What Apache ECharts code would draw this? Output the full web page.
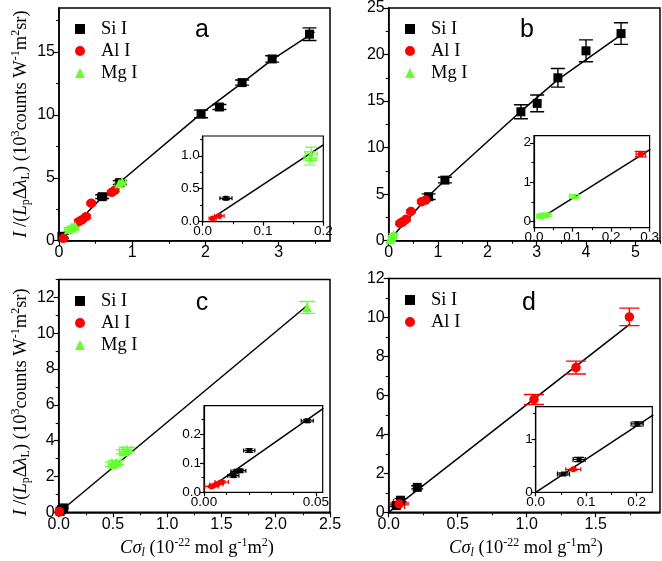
<!DOCTYPE html>
<html><head><meta charset="utf-8">
<script src="https://cdn.jsdelivr.net/npm/echarts@6/dist/echarts.min.js"></script>
<style>html,body{margin:0;padding:0;background:#fff}#c{width:662px;height:561px}</style>
</head><body><div id="c"></div>
<script>
// ================= DATA =================
const legendNames = ['Si I', 'Al I', 'Mg I'];
const panelLetters = ['a', 'b', 'c', 'd'];
// each point: [x, y, xErr, yErr]
// ---- panel a ----
const siA = [[0.04,0.35,0.03,0.15],[0.59,3.5,0.06,0.15],[0.83,4.62,0.06,0.15],[1.94,10.08,0,0.3],[2.19,10.63,0,0.2],[2.5,12.57,0,0.2],[2.91,14.45,0,0.25],[3.42,16.42,0,0.5]];
const alA = [[0.06,0.19,0.05,0.1],[0.27,1.51,0.05,0.1],[0.31,1.65,0.05,0.1],[0.37,1.91,0.05,0.1],[0.44,2.98,0.05,0.1],[0.72,3.85,0.05,0.1],[0.76,4.0,0.05,0.1]];
const mgA = [[0.13,0.9,0.05,0.15],[0.18,1.0,0.05,0.15],[0.22,1.17,0.05,0.15],[0.82,4.55,0.05,0.15],[0.86,4.7,0.05,0.15]];
const fitA = [[0.02,0.1],[0.59,3.45],[0.83,4.65],[1.94,10.1],[2.5,12.55],[2.91,14.4],[3.49,16.6]];
const siAin = [[0.0386,0.355,0.01,0.02]];
const alAin = [[0.0166,0.05,0.006,0.01],[0.0275,0.087,0.008,0.01]];
const mgAin = [[0.178,0.96,0.01,0.1],[0.18,1.03,0.01,0.1]];
const fitAin = [[0.0176,0.067],[0.2,1.164]];
// ---- panel b ----
const siB = [[0.81,4.73,0.05,0.3],[1.14,6.51,0.05,0.3],[2.68,13.85,0,0.75],[3.01,14.75,0,0.9],[3.43,17.5,0,1.0],[4.0,20.4,0,1.18],[4.71,22.25,0,1.16]];
const alB = [[0.23,1.87,0.07,0.15],[0.28,2.0,0.07,0.15],[0.35,2.3,0.07,0.15],[0.45,3.15,0.07,0.15],[0.67,4.19,0.07,0.15],[0.75,4.37,0.07,0.15]];
const mgB = [[0.02,0.13,0.04,0.1],[0.03,0.17,0.04,0.1],[0.06,0.4,0.04,0.1],[0.1,0.65,0.04,0.1]];
const fitB = [[0,0],[0.81,4.8],[1.14,6.5],[2.68,13.9],[3.43,17.3],[4.79,22.4]];
const alBin = [[0.277,1.71,0.012,0.07]];
const mgBin = [[0.019,0.13,0.012,0.04],[0.024,0.16,0.012,0.04],[0.032,0.17,0.012,0.04],[0.104,0.64,0.012,0.04]];
const fitBin = [[0.024,0.12],[0.302,1.83]];
// ---- panel c ----
const siC = [[0.013,0.057,0.02,0.05],[0.025,0.143,0.02,0.05],[0.046,0.245,0.02,0.05]];
const alC = [[0.0034,0.022,0.01,0.02],[0.0079,0.036,0.01,0.02]];
const mgC = [[0.5,2.68,0.04,0.12],[0.53,2.78,0.04,0.12],[0.6,3.38,0.04,0.12],[0.63,3.5,0.04,0.12],[2.29,11.44,0,0.33]];
const fitC = [[0.03,0.13],[2.29,11.55]];
const siCin = [[0.0131,0.057,0.0025,0.005],[0.0145,0.072,0.0025,0.005],[0.0162,0.074,0.0025,0.005],[0.0202,0.143,0.0025,0.006],[0.0461,0.245,0.0027,0.005]];
const alCin = [[0.0034,0.02,0.003,0.004],[0.0055,0.027,0.003,0.004],[0.0079,0.035,0.003,0.004]];
const fitCin = [[0.0027,0.015],[0.0533,0.288]];
// ---- panel d ----
const siD = [[0.055,0.345,0.02,0.05],[0.086,0.62,0.02,0.08],[0.207,1.28,0.02,0.08]];
const alD = [[0.075,0.43,0.04,0.05],[1.053,5.79,0,0.26],[1.357,7.43,0,0.33],[1.744,10.03,0,0.45]];
const fitD = [[0,0],[1.75,9.67]];
const siDin = [[0.055,0.345,0.012,0.02],[0.086,0.62,0.012,0.04],[0.201,1.29,0.012,0.04]];
const alDin = [[0.0745,0.434,0.015,0.02]];
const fitDin = [[0,0],[0.233,1.46]];
// ---- axis tick labels ----
const ticksAx = [0,1,2,3],      ticksAy = [0,5,10,15];
const ticksAinX = [0,0.1,0.2],  ticksAinY = [0,0.5,1.0];
const ticksBx = [0,1,2,3,4,5],  ticksBy = [0,5,10,15,20,25];
const ticksBinX = [0,0.1,0.2,0.3], ticksBinY = [0,1,2];
const ticksCx = [0,0.5,1.0,1.5,2.0,2.5], ticksCy = [0,2,4,6,8,10,12];
const ticksCinX = [0,0.05],     ticksCinY = [0,0.1,0.2];
const ticksDx = [0,0.5,1.0,1.5], ticksDy = [0,2,4,6,8,10,12];
const ticksDinX = [0,0.1,0.2],  ticksDinY = [0,1];

// ================= STYLE / LAYOUT =================
const SANS = 'Liberation Sans, Arial, sans-serif';
const SERIF = 'Liberation Serif, Times New Roman, serif';
const BLACK = '#000000', RED = '#ff0000', GREEN = '#66ff33';

const grids = [
  {xr:[0,3.7], xt:ticksAx, xm:0.5, xd:0, yr:[0,18.5], yt:ticksAy, ym:2.5, yd:0, box:{left:59,top:8,width:271,height:232.7}, inset:false},
  {xr:[0,0.2], xt:ticksAinX, xm:0.05, xd:1, yr:[0,1.3], yt:ticksAinY, ym:0.25, yd:1, box:{left:202.7,top:136,width:120.6,height:85.7}, inset:true},
  {xr:[0,5.5], xt:ticksBx, xm:0.5, xd:0, yr:[0,25], yt:ticksBy, ym:2.5, yd:0, box:{left:388.7,top:8,width:271.3,height:232.7}, inset:false},
  {xr:[0,0.3], xt:ticksBinX, xm:0.05, xd:1, yr:[-0.16,2.18], yt:ticksBinY, ym:0.5, yd:0, box:{left:534,top:135.7,width:118.3,height:92}, inset:true},
  {xr:[0,2.5], xt:ticksCx, xm:0.25, xd:1, yr:[0,13], yt:ticksCy, ym:1, yd:0, box:{left:58.7,top:279.5,width:271.3,height:232.8}, inset:false},
  {xr:[0,0.053], xt:ticksCinX, xm:0.01, xd:2, yr:[0,0.297], yt:ticksCinY, ym:0.05, yd:1, box:{left:204,top:405.7,width:118.7,height:86.6}, inset:true},
  {xr:[0,1.966], xt:ticksDx, xm:0.25, xd:1, yr:[0,12], yt:ticksDy, ym:1, yd:0, box:{left:388.7,top:278.5,width:271.3,height:233.8}, inset:false},
  {xr:[0,0.231], xt:ticksDinX, xm:0.05, xd:1, yr:[0,1.615], yt:ticksDinY, ym:0.5, yd:0, box:{left:535.7,top:406.7,width:116.6,height:85.6}, inset:true}
];

function minorVals(r, step, majors) {
  const out = [];
  const start = Math.ceil((r[0] - 1e-9) / step);
  for (let k = start; k * step <= r[1] + 1e-9; k++) {
    const v = +(k * step).toFixed(6);
    if (!majors.some(m => Math.abs(m - v) < 1e-9)) out.push(v);
  }
  return out;
}

const gridOpt = [], xAxes = [], yAxes = [];
grids.forEach((g, i) => {
  const lw = g.inset ? 1.2 : 1.5;
  const fs = g.inset ? 13.5 : 16;
  gridOpt.push(Object.assign({show:true, borderColor:BLACK, borderWidth:lw, backgroundColor: g.inset ? '#fff' : 'transparent', containLabel:false}, g.box));
  xAxes.push({type:'value', gridIndex:i, min:g.xr[0], max:g.xr[1], position:'bottom',
    axisLine:{show:true, onZero:false, lineStyle:{color:BLACK, width:lw}},
    axisTick:{show:true, customValues:g.xt, length: g.inset?4:5, lineStyle:{color:BLACK, width:1.2}},
    axisLabel:{customValues:g.xt, formatter:v => (+v).toFixed(g.xd), color:BLACK, fontFamily:SANS, fontSize:fs, margin: g.inset?3:4},
    splitLine:{show:false}});
  xAxes.push({type:'value', gridIndex:i, min:g.xr[0], max:g.xr[1], position:'bottom',
    axisLine:{show:false, onZero:false}, axisLabel:{show:false},
    axisTick:{show:true, customValues:minorVals(g.xr, g.xm, g.xt), length: g.inset?2.5:3, lineStyle:{color:BLACK, width:1.1}},
    splitLine:{show:false}});
  yAxes.push({type:'value', gridIndex:i, min:g.yr[0], max:g.yr[1], position:'left',
    axisLine:{show:true, onZero:false, lineStyle:{color:BLACK, width:lw}},
    axisTick:{show:true, customValues:g.yt, length: g.inset?4:5, lineStyle:{color:BLACK, width:1.2}},
    axisLabel:{customValues:g.yt, formatter:v => (+v).toFixed(g.yd), color:BLACK, fontFamily:SANS, fontSize:fs, margin: g.inset?3:4},
    splitLine:{show:false}});
  yAxes.push({type:'value', gridIndex:i, min:g.yr[0], max:g.yr[1], position:'left',
    axisLine:{show:false, onZero:false}, axisLabel:{show:false},
    axisTick:{show:true, customValues:minorVals(g.yr, g.ym, g.yt), length: g.inset?2.5:3, lineStyle:{color:BLACK, width:1.1}},
    splitLine:{show:false}});
});

function errRender(color, cap, lw) {
  return function (params, api) {
    const x = api.value(0), y = api.value(1), ex = api.value(2), ey = api.value(3);
    const st = {stroke:color, lineWidth:lw};
    const ch = [];
    if (ey > 0) {
      const a = api.coord([x, y - ey]), b = api.coord([x, y + ey]);
      ch.push({type:'line', shape:{x1:a[0], y1:a[1], x2:b[0], y2:b[1]}, style:st});
      ch.push({type:'line', shape:{x1:a[0]-cap, y1:a[1], x2:a[0]+cap, y2:a[1]}, style:st});
      ch.push({type:'line', shape:{x1:b[0]-cap, y1:b[1], x2:b[0]+cap, y2:b[1]}, style:st});
    }
    if (ex > 0) {
      const a = api.coord([x - ex, y]), b = api.coord([x + ex, y]);
      const c = Math.max(2, cap * 0.5);
      ch.push({type:'line', shape:{x1:a[0], y1:a[1], x2:b[0], y2:b[1]}, style:st});
      ch.push({type:'line', shape:{x1:a[0], y1:a[1]-c, x2:a[0], y2:a[1]+c}, style:st});
      ch.push({type:'line', shape:{x1:b[0], y1:b[1]-c, x2:b[0], y2:b[1]+c}, style:st});
    }
    return {type:'group', children:ch};
  };
}

const series = [];
const SYM = {'Si I':'rect', 'Al I':'circle', 'Mg I':'triangle'};
const COL = {'Si I':BLACK, 'Al I':RED, 'Mg I':GREEN};
function addGroup(gi, name, data, inset, cap) {
  const idx = gi * 2;
  series.push({type:'custom', name: name + ' error', xAxisIndex:idx, yAxisIndex:idx, clip:true,
    renderItem: errRender(COL[name], cap, inset ? 1.2 : 1.4), data: data, z:3, silent:true});
}
function addPoints(gi, name, data, inset) {
  const idx = gi * 2;
  series.push({type:'scatter', name:name, xAxisIndex:idx, yAxisIndex:idx, data:data, symbol:SYM[name],
    symbolSize: inset ? (name === 'Si I' ? 5 : 6) : (name === 'Si I' ? 9 : 9.5),
    itemStyle:{color:COL[name], opacity:1}, z:4, clip:true});
}
function addFit(gi, data) {
  const idx = gi * 2;
  series.push({type:'line', name:'fit', xAxisIndex:idx, yAxisIndex:idx, data:data, symbol:'none',
    lineStyle:{color:BLACK, width:1.5}, z:2, clip:true, silent:true});
}
// scatter first so legend icons use them
const groups = [
  [0,'Si I',siA,false,7],[0,'Al I',alA,false,5],[0,'Mg I',mgA,false,5],
  [1,'Si I',siAin,true,4],[1,'Al I',alAin,true,3],[1,'Mg I',mgAin,true,6],
  [2,'Si I',siB,false,7],[2,'Al I',alB,false,5],[2,'Mg I',mgB,false,5],
  [3,'Al I',alBin,true,6],[3,'Mg I',mgBin,true,5],
  [4,'Si I',siC,false,5],[4,'Al I',alC,false,4],[4,'Mg I',mgC,false,8],
  [5,'Si I',siCin,true,4],[5,'Al I',alCin,true,4],
  [6,'Si I',siD,false,6],[6,'Al I',alD,false,10],
  [7,'Si I',siDin,true,5],[7,'Al I',alDin,true,4]
];
groups.forEach(g => addPoints(g[0], g[1], g[2], g[3]));
groups.forEach(g => addGroup(g[0], g[1], g[2], g[3], g[4]));
[[0,fitA],[1,fitAin],[2,fitB],[3,fitBin],[4,fitC],[5,fitCin],[6,fitD],[7,fitDin]].forEach(f => addFit(f[0], f[1]));

function legendAt(left, top, names) {
  return {show:true, data:names, orient:'vertical', left:left, top:top, padding:0, itemGap:2,
    itemWidth:10, itemHeight:10, selectedMode:false,
    textStyle:{fontFamily:SERIF, fontSize:18.5, color:BLACK, lineHeight:20, padding:[0,0,0,11]}};
}

const yTitleText = '{it|I}{n| /(}{it|L}{sub|p}{n|Δ}{it|λ}{sub|L}{n|) (10}{sup|3}{n|counts W}{sup|-1}{n|m}{sup|2}{n|sr)}';
const xTitleText = '{it|Cσ}{isub|l}{n| (10}{sup|-22}{n| mol g}{sup|-1}{n|m}{sup|2}{n|)}';
const rich = {
  it:{fontFamily:SERIF, fontStyle:'italic', fontSize:18.5, color:BLACK},
  n:{fontFamily:SERIF, fontSize:18.5, color:BLACK},
  sub:{fontFamily:SERIF, fontSize:12, color:BLACK, padding:[10,0,0,0]},
  isub:{fontFamily:SERIF, fontStyle:'italic', fontSize:12, color:BLACK, padding:[10,0,0,0]},
  sup:{fontFamily:SERIF, fontSize:12, color:BLACK, padding:[0,0,10,0]}
};
function title(x, y, text, rot) {
  return {type:'text', x:x, y:y, rotation:rot, style:{text:text, rich:rich, align:'center', verticalAlign:'middle'}};
}
function letter(x, y, t) {
  return {type:'text', x:x, y:y, style:{text:t, fontFamily:SANS, fontSize:25, fill:BLACK, align:'center', verticalAlign:'middle'}};
}

const option = {
  animation:false,
  backgroundColor:'#fff',
  grid:gridOpt,
  xAxis:xAxes,
  yAxis:yAxes,
  legend:[legendAt(75, 19, legendNames), legendAt(405, 19, legendNames), legendAt(75, 291, legendNames), legendAt(405, 290, legendNames.slice(0,2))],
  series:series,
  graphic:[
    title(21, 124, yTitleText, Math.PI/2),
    title(21, 402, yTitleText, Math.PI/2),
    title(197, 548, xTitleText, 0),
    title(526, 548, xTitleText, 0),
    letter(202, 30, panelLetters[0]),
    letter(527, 30, panelLetters[1]),
    letter(202, 303, panelLetters[2]),
    letter(529, 303, panelLetters[3])
  ]
};
const chart = echarts.init(document.getElementById('c'), null, {renderer:'canvas'});
chart.setOption(option);
</script>
</body></html>
